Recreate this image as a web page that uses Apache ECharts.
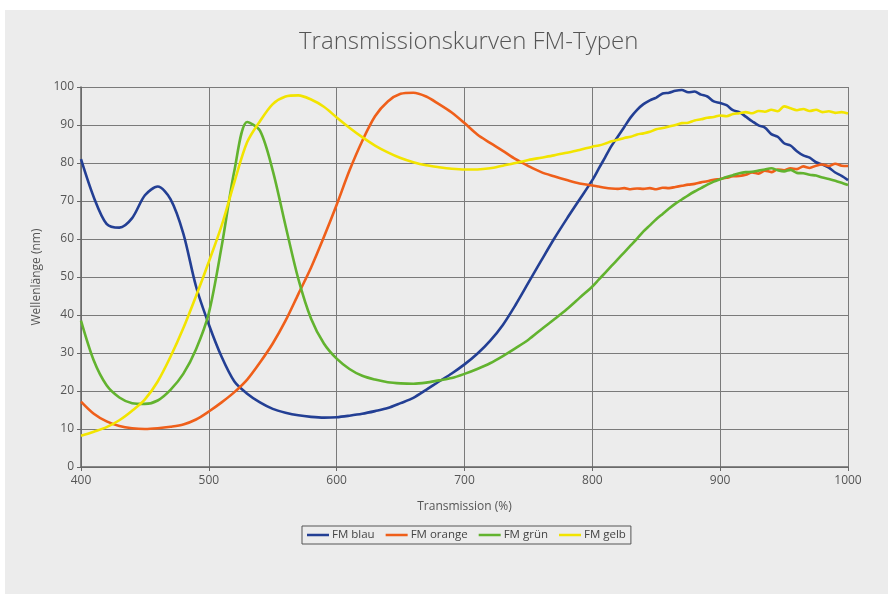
<!DOCTYPE html>
<html>
    <head>
        <meta charset="utf-8">
        <title>Transmissionskurven FM-Typen</title>
        <script src="https://cdn.jsdelivr.net/npm/echarts@6/dist/echarts.min.js"></script>
        <style>
            body { margin: 0; background: #ffffff; }
            #chart1 { position: absolute; left: 5px; top: 10px; width: 883px; height: 584px; background: #ececec; }
        </style>
    </head>
    <body>
        <div id="chart1"></div>
        <script type="text/javascript">
            // Wellenlängen-Stützstellen (x)
            var wl = [400, 410, 420, 430, 440, 450, 460, 470, 480, 490,
                500, 510, 520, 530, 540, 550, 560, 570, 580, 590,
                600, 610, 620, 630, 640, 650, 660, 670, 680, 690,
                700, 710, 720, 730, 740, 750, 760, 770, 780, 790,
                800, 805, 810, 815, 820, 825, 830, 835, 840, 845,
                850, 855, 860, 865, 870, 875, 880, 885, 890, 895,
                900, 905, 910, 915, 920, 925, 930, 935, 940, 945,
                950, 955, 960, 965, 970, 975, 980, 985, 990, 995, 1000];

            var blau = [81, 71, 64, 63, 65.5, 71.5, 73.8, 70.5, 61.5, 47.5,
                37.5, 29, 22.5, 19.3, 17, 15.3, 14.3, 13.6, 13.2, 13,
                13.1, 13.5, 14, 14.7, 15.5, 16.8, 18.2, 20.3, 22.5, 24.6,
                27, 29.8, 33.2, 37.4, 42.7, 48.5, 54.3, 60, 65.3, 70.4,
                75.5, 78.5, 81.5, 84.5, 87, 89.5, 92, 94, 95.5, 96.5,
                97.2, 98.3, 98.5, 99, 99.2, 98.6, 98.8, 98, 97.5, 96.2,
                95.8, 95.2, 93.9, 93.4, 92.2, 91, 89.9, 89.3, 87.6, 86.9,
                85.2, 84.6, 83.1, 82, 81.4, 80.2, 79.6, 78.8, 77.5, 76.6, 75.5];

            var orange = [17.2, 14, 12, 10.8, 10.2, 10, 10.2, 10.6, 11.2, 12.5,
                14.6, 17, 19.7, 23, 27.5, 32.5, 38.5, 45.5, 52.5, 60.5,
                69, 78, 85.8, 92.3, 96.2, 98.2, 98.5, 97.5, 95.5, 93.3,
                90.5, 87.5, 85.3, 83.2, 81, 79.2, 77.6, 76.5, 75.5, 74.6,
                74.1, 73.8, 73.5, 73.3, 73.2, 73.4, 73.1, 73.3, 73.2, 73.4,
                73.1, 73.5, 73.4, 73.7, 74, 74.3, 74.5, 74.9, 75.2, 75.6,
                75.8, 76.1, 76.5, 76.6, 76.9, 77.5, 77.2, 78, 77.6, 78.3,
                78.1, 78.6, 78.4, 79.1, 78.7, 79.3, 79.6, 79.2, 79.8, 79.3, 79.2];

            var gruen = [38.5, 28, 21.5, 18.3, 16.8, 16.6, 17.5, 20.3, 24.5, 31,
                40.5, 58, 78, 90.8, 88.5, 78, 63.5, 49.5, 39, 32.5,
                28.5, 25.8, 24, 23, 22.3, 22, 21.9, 22.2, 22.8, 23.4,
                24.5, 25.8, 27.3, 29.2, 31.3, 33.5, 36.2, 38.8, 41.5, 44.5,
                47.5, 49.3, 51.1, 52.9, 54.7, 56.5, 58.3, 60.1, 62, 63.6,
                65.2, 66.6, 68, 69.3, 70.4, 71.5, 72.5, 73.4, 74.3, 75.1,
                75.7, 76.3, 76.8, 77.3, 77.6, 77.7, 78, 78.3, 78.6, 78.1,
                77.8, 78.2, 77.4, 77.3, 76.9, 76.7, 76.2, 75.8, 75.3, 74.8, 74.2];

            var gelb = [8.2, 9.3, 10.5, 12.3, 14.8, 17.8, 22.5, 29, 36.5, 45,
                54, 63.5, 75, 85.5, 91, 95.5, 97.5, 97.8, 96.7, 94.8,
                92, 89.3, 86.8, 84.6, 82.8, 81.3, 80.2, 79.4, 78.9, 78.5,
                78.3, 78.3, 78.6, 79.3, 80, 80.8, 81.4, 82, 82.7, 83.4,
                84.3, 84.6, 85.1, 85.7, 86.1, 86.6, 86.9, 87.5, 87.8, 88.2,
                88.9, 89.2, 89.6, 90, 90.5, 90.6, 91.2, 91.5, 91.9, 92.1,
                92.5, 92.3, 92.9, 93.1, 93.4, 93.1, 93.7, 93.5, 94, 93.6,
                94.9, 94.4, 93.9, 94.2, 93.7, 94, 93.4, 93.6, 93.2, 93.4, 93];

            var names = ['FM blau', 'FM orange', 'FM grün', 'FM gelb'];
            var colors = ['#233f94', '#ef5f1a', '#62b32f', '#f2e400'];

            function pairs(vals) {
                return wl.map(function (x, i) { return [x, vals[i]]; });
            }

            var myChart1 = echarts.init(document.getElementById('chart1'));
            var font = "'Open Sans', 'Noto Sans', sans-serif";
            var axisLine = { show: true, lineStyle: { color: '#666', width: 1.5 } };
            var grid = { lineStyle: { color: '#7a7a7a', width: 1 } };

            myChart1.setOption({
                backgroundColor: '#ececec',
                animation: false,
                title: {
                    text: 'Transmissionskurven FM-Typen',
                    left: 289,
                    top: 15,
                    textStyle: { fontFamily: font, fontSize: 24, fontWeight: 300, color: '#555' }
                },
                legend: {
                    data: names,
                    left: 297,
                    top: 516,
                    icon: 'rect',
                    itemWidth: 22,
                    itemHeight: 2.5,
                    itemGap: 11,
                    padding: [3, 5],
                    borderColor: '#555',
                    borderWidth: 1,
                    textStyle: { fontFamily: font, fontSize: 11.5, color: '#444', padding: [0, 0, 0, -2] }
                },
                grid: { left: 76, top: 77, width: 767, height: 380 },
                xAxis: {
                    type: 'value',
                    min: 400, max: 1000, interval: 100,
                    name: 'Transmission (%)',
                    nameLocation: 'middle',
                    nameGap: 34,
                    nameTextStyle: { fontFamily: font, fontSize: 12, color: '#555' },
                    axisLine: axisLine,
                    axisTick: { show: true, length: 4, lineStyle: { color: '#666' } },
                    axisLabel: { fontFamily: font, fontSize: 12, color: '#555', margin: 8,
                        formatter: function (v) { return String(v); } },
                    splitLine: grid
                },
                yAxis: {
                    type: 'value',
                    min: 0, max: 100, interval: 10,
                    name: 'Wellenlänge (nm)',
                    nameLocation: 'middle',
                    nameGap: 34,
                    nameTextStyle: { fontFamily: font, fontSize: 12, color: '#555' },
                    axisLine: axisLine,
                    axisTick: { show: true, length: 4, lineStyle: { color: '#666' } },
                    axisLabel: { fontFamily: font, fontSize: 12, color: '#555', margin: 7 },
                    splitLine: grid
                },
                series: [blau, orange, gruen, gelb].map(function (vals, i) {
                    return {
                        name: names[i],
                        type: 'line',
                        data: pairs(vals),
                        smooth: 0.3,
                        showSymbol: false,
                        color: colors[i],
                        lineStyle: { width: 2.6, color: colors[i] }
                    };
                })
            });
        </script>
    </body>
</html>
